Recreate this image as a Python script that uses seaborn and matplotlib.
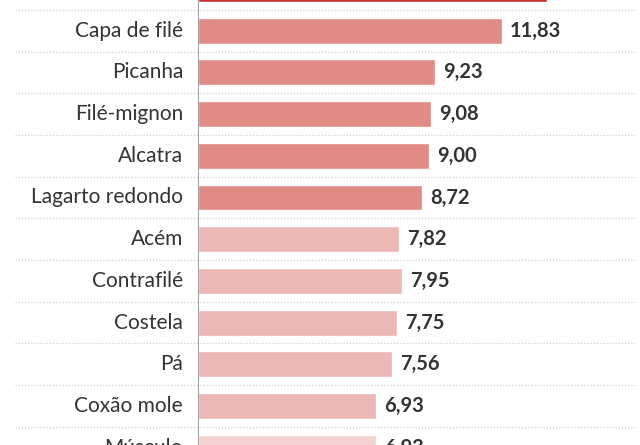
import matplotlib
matplotlib.use("Agg")
import matplotlib.pyplot as plt
import seaborn as sns
import pandas as pd

categories = ["", "Capa de filé", "Picanha", "Filé-mignon", "Alcatra", "Lagarto redondo",
              "Acém", "Contrafilé", "Costela", "Pá", "Coxão mole", "Músculo"]
values = [13.58, 11.83, 9.23, 9.08, 9.00, 8.72, 7.82, 7.95, 7.75, 7.56, 6.93, 6.93]
groups = ["top", "high", "high", "high", "high", "high",
          "mid", "mid", "mid", "mid", "mid", "low"]
value_labels = ["", "11,83", "9,23", "9,08", "9,00", "8,72",
                "7,82", "7,95", "7,75", "7,56", "6,93", "6,93"]
palette = {"top": "#c8322f", "high": "#e08b86", "mid": "#ecb8b5", "low": "#f3d1cf"}

df = pd.DataFrame({"cat": categories, "val": values, "grp": groups})

sns.set_theme(style="white")
plt.rcParams["font.family"] = ["Lato", "DejaVu Sans"]

fig = plt.figure(figsize=(6.4, 4.45), dpi=100)
W, H = 640, 445
ax = fig.add_axes([198 / W, 0, 442 / W, 1])

sns.barplot(data=df, y="cat", x="val", hue="grp", palette=palette, dodge=False,
            width=0.62, legend=False, ax=ax, orient="h", saturation=1)

px_per_row = 41.7
ax.set_ylim((445 + 11) / px_per_row, (0 + 11) / px_per_row)
ax.set_xlim(0, 442 / 25.7)

for s in ax.spines.values():
    s.set_visible(False)
ax.set_xticks([])
ax.set_yticks([])
ax.set_xlabel("")
ax.set_ylabel("")
ax.axvline(0, color="#8a8a8a", lw=1.2, zorder=5)

trans = ax.get_yaxis_transform()
for i in range(len(categories)):
    y = i + 0.5
    ax.plot([(15 - 198) / 442, (635 - 198) / 442], [y, y], transform=trans,
            color="#d0d0d0", lw=0.9, ls=(0, (1, 1.5)), clip_on=False, zorder=0)

for i, (c, v, lab) in enumerate(zip(categories, values, value_labels)):
    ax.text(-15 / 25.7, i, c, ha="right", va="center", fontsize=15,
            color="#333333", clip_on=False)
    if lab:
        ax.text(v + 8 / 25.7, i, lab, ha="left", va="center", fontsize=14.5,
                fontweight="bold", color="#333333")

fig.savefig("out.png", dpi=100)
